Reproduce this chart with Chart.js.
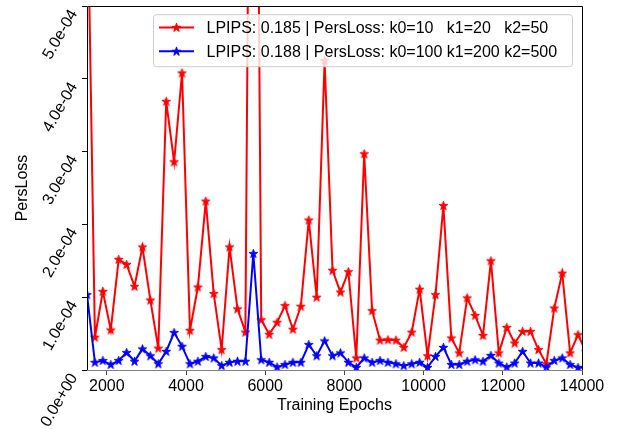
<!DOCTYPE html>
<html lang="en">
<head>
<meta charset="UTF-8" />
<title>PersLoss vs Training Epochs</title>
<style>
  html, body { margin: 0; padding: 0; background: #fff; }
  #wrap { position: relative; width: 623px; height: 429px; }
</style>
</head>
<body>
<div id="wrap"><canvas id="lossChart" width="623" height="429"></canvas></div>

<script src="https://cdn.jsdelivr.net/npm/chart.js@4.4.1/dist/chart.umd.min.js"></script>
<script>
  // x positions of the logged checkpoints
  const epochs = [
    1500, 1700, 1900, 2100, 2300, 2500, 2700, 2900, 3100, 3300,
    3500, 3700, 3900, 4100, 4300, 4500, 4700, 4900, 5100, 5300,
    5500, 5700, 5900, 6100, 6300, 6500, 6700, 6900, 7100, 7300,
    7500, 7700, 7900, 8100, 8300, 8500, 8700, 8900, 9100, 9300,
    9500, 9700, 9900, 10100, 10300, 10500, 10700, 10900, 11100, 11300,
    11500, 11700, 11900, 12100, 12300, 12500, 12700, 12900, 13100, 13300,
    13500, 13700, 13900, 14100
  ];

  // red run: k0=10 k1=20 k2=50
  const lossSmallK = [
    7.0e-4, 0.45e-4, 1.08e-4, 0.55e-4, 1.52e-4, 1.45e-4, 1.15e-4, 1.69e-4, 0.96e-4, 0.30e-4,
    3.69e-4, 2.86e-4, 4.08e-4, 0.545e-4, 1.14e-4, 2.32e-4, 1.05e-4, 0.28e-4, 1.69e-4, 0.84e-4,
    0.52e-4, 15.5e-4, 0.69e-4, 0.49e-4, 0.655e-4, 0.885e-4, 0.56e-4, 0.875e-4, 2.06e-4, 1.0e-4,
    4.25e-4, 1.37e-4, 1.07e-4, 1.35e-4, 0.165e-4, 2.97e-4, 0.815e-4, 0.41e-4, 0.415e-4, 0.41e-4,
    0.31e-4, 0.52e-4, 1.11e-4, 0.195e-4, 1.035e-4, 2.26e-4, 0.44e-4, 0.235e-4, 0.99e-4, 0.75e-4,
    0.475e-4, 1.50e-4, 0.235e-4, 0.585e-4, 0.37e-4, 0.53e-4, 0.53e-4, 0.28e-4, 0.085e-4, 0.85e-4,
    1.33e-4, 0.235e-4, 0.485e-4, 0.25e-4
  ];

  // blue run: k0=100 k1=200 k2=500
  const lossLargeK = [
    1.035e-4, 0.105e-4, 0.13e-4, 0.075e-4, 0.13e-4, 0.24e-4, 0.12e-4, 0.29e-4, 0.195e-4, 0.085e-4,
    0.255e-4, 0.515e-4, 0.325e-4, 0.085e-4, 0.12e-4, 0.185e-4, 0.165e-4, 0.06e-4, 0.105e-4, 0.12e-4,
    0.12e-4, 1.6e-4, 0.14e-4, 0.105e-4, 0.04e-4, 0.075e-4, 0.105e-4, 0.105e-4, 0.35e-4, 0.195e-4,
    0.40e-4, 0.195e-4, 0.235e-4, 0.105e-4, 0.035e-4, 0.165e-4, 0.105e-4, 0.13e-4, 0.105e-4, 0.085e-4,
    0.06e-4, 0.085e-4, 0.105e-4, 0.035e-4, 0.185e-4, 0.31e-4, 0.075e-4, 0.075e-4, 0.12e-4, 0.14e-4,
    0.12e-4, 0.2e-4, 0.095e-4, 0.04e-4, 0.095e-4, 0.255e-4, 0.095e-4, 0.095e-4, 0.04e-4, 0.13e-4,
    0.165e-4, 0.075e-4, 0.035e-4, 0.03e-4
  ];

  const xTicks = [2000, 4000, 6000, 8000, 10000, 12000, 14000];
  const yTicks = [0, 1e-4, 2e-4, 3e-4, 4e-4, 5e-4];
  const yTickLabels = ["0.0e+00", "1.0e-04", "2.0e-04", "3.0e-04", "4.0e-04", "5.0e-04"];
  const legendLabels = [
    "LPIPS: 0.185 | PersLoss: k0=10   k1=20   k2=50",
    "LPIPS: 0.188 | PersLoss: k0=100 k1=200 k2=500"
  ];

  const FONT = "'Liberation Sans', Arial, sans-serif";
  Chart.defaults.font.family = FONT;
  Chart.defaults.font.size = 16;
  Chart.defaults.color = "#000";

  // filled 5-point star like matplotlib's '*' marker
  function starImage(color) {
    const c = document.createElement("canvas");
    c.width = 13;
    c.height = 13;
    const g = c.getContext("2d");
    const R = 4.6, r = R * 0.382;
    g.beginPath();
    for (let i = 0; i < 10; i++) {
      const rad = i % 2 ? r : R;
      const a = -Math.PI / 2 + (i * Math.PI) / 5;
      const px = 6.5 + rad * Math.cos(a);
      const py = 6.8 + rad * Math.sin(a);
      if (i) g.lineTo(px, py);
      else g.moveTo(px, py);
    }
    g.closePath();
    g.fillStyle = color;
    g.fill();
    g.strokeStyle = color;
    g.lineWidth = 1;
    g.stroke();
    return c;
  }
  const redStar = starImage("#ff0000");
  const blueStar = starImage("#0000ff");

  // axes box (matplotlib spines), bottom one is grey
  const framePlugin = {
    id: "frame",
    afterDatasetsDraw(chart) {
      const { ctx, chartArea: a } = chart;
      const l = Math.floor(a.left) + 0.5, r = Math.floor(a.right) + 0.5;
      const t = Math.floor(a.top) + 0.5, b = Math.floor(a.bottom) + 0.5;
      ctx.save();
      ctx.lineWidth = 1;
      ctx.strokeStyle = "#000";
      ctx.beginPath();
      ctx.moveTo(l, b);
      ctx.lineTo(l, t);
      ctx.lineTo(r, t);
      ctx.lineTo(r, b);
      ctx.stroke();
      ctx.strokeStyle = "#808080";
      ctx.beginPath();
      ctx.moveTo(l, b);
      ctx.lineTo(r, b);
      ctx.stroke();
      ctx.restore();
    }
  };

  // legend drawn inside the plot, semi transparent like matplotlib
  const innerLegend = {
    id: "innerLegend",
    afterDraw(chart) {
      const { ctx, chartArea: a } = chart;
      const w = 419, h = 52, rad = 3;
      const x = a.right - 9.5 - w, y = a.top + 8.7;
      ctx.save();
      ctx.beginPath();
      ctx.moveTo(x + rad, y);
      ctx.arcTo(x + w, y, x + w, y + h, rad);
      ctx.arcTo(x + w, y + h, x, y + h, rad);
      ctx.arcTo(x, y + h, x, y, rad);
      ctx.arcTo(x, y, x + w, y, rad);
      ctx.closePath();
      ctx.fillStyle = "rgba(255,255,255,0.8)";
      ctx.fill();
      ctx.strokeStyle = "#cccccc";
      ctx.lineWidth = 1;
      ctx.stroke();

      const rows = [
        { color: "#ff0000", star: redStar, text: legendLabels[0], cy: y + 12.7 },
        { color: "#0000ff", star: blueStar, text: legendLabels[1], cy: y + 36.6 }
      ];
      ctx.font = "16px " + FONT;
      ctx.textBaseline = "alphabetic";
      ctx.textAlign = "left";
      rows.forEach((row) => {
        ctx.strokeStyle = row.color;
        ctx.lineWidth = 2;
        ctx.beginPath();
        ctx.moveTo(x + 5.5, row.cy);
        ctx.lineTo(x + 40.5, row.cy);
        ctx.stroke();
        ctx.drawImage(row.star, x + 23 - 6.5, row.cy - 6.5);
        ctx.fillStyle = "#000";
        ctx.fillText(row.text, x + 53, row.cy + 5.8);
      });
      ctx.restore();
    }
  };

  const toPoints = (ys) => epochs.map((e, i) => ({ x: e, y: ys[i] }));

  new Chart(document.getElementById("lossChart"), {
    type: "line",
    data: {
      datasets: [
        {
          label: legendLabels[1],
          data: toPoints(lossLargeK),
          borderColor: "#0000ff",
          backgroundColor: "#0000ff",
          borderWidth: 2,
          pointStyle: blueStar,
          tension: 0,
          clip: 0
        },
        {
          label: legendLabels[0],
          data: toPoints(lossSmallK),
          borderColor: "#ff0000",
          backgroundColor: "#ff0000",
          borderWidth: 2,
          pointStyle: redStar,
          tension: 0,
          clip: 0
        }
      ]
    },
    options: {
      responsive: false,
      animation: false,
      devicePixelRatio: 1,
      events: [],
      layout: { padding: { left: 0, top: 6, right: 41, bottom: 0 } },
      plugins: {
        legend: { display: false },
        tooltip: { enabled: false }
      },
      scales: {
        x: {
          type: "linear",
          min: 1500,
          max: 14000,
          afterBuildTicks: (s) => {
            s.ticks = xTicks.map((v) => ({ value: v }));
          },
          afterFit: (s) => {
            s.height = 59;
            s.paddingLeft = 0;
            s.paddingRight = 0;
          },
          ticks: {
            padding: 2,
            maxRotation: 0,
            autoSkip: false,
            callback: (v) => String(v)
          },
          grid: { drawOnChartArea: false, tickLength: 5, color: "#444" },
          border: { display: false },
          title: {
            display: true,
            text: "Training Epochs",
            padding: { top: 0, bottom: 14 }
          }
        },
        y: {
          min: 0,
          max: 5e-4,
          afterBuildTicks: (s) => {
            s.ticks = yTicks.map((v) => ({ value: v }));
          },
          afterFit: (s) => {
            s.width = 87;
            s.paddingTop = 0;
            s.paddingBottom = 0;
          },
          ticks: {
            padding: 8,
            labelOffset: 5,
            minRotation: 60,
            maxRotation: 60,
            autoSkip: false,
            callback: (v) => yTickLabels[yTicks.indexOf(v)]
          },
          grid: { drawOnChartArea: false, tickLength: 5, color: "#000" },
          border: { display: false },
          title: {
            display: true,
            text: "PersLoss",
            padding: { top: 13, bottom: 0 }
          }
        }
      }
    },
    plugins: [framePlugin, innerLegend]
  });
</script>
</body>
</html>
